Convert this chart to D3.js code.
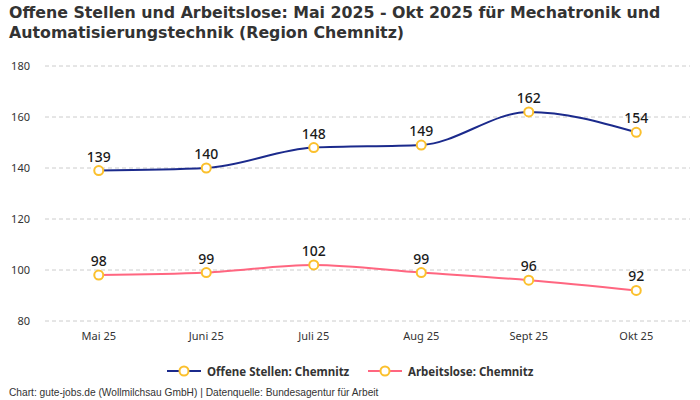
<!DOCTYPE html>
<html>
<head>
<meta charset="utf-8">
<script src="https://cdn.jsdelivr.net/npm/d3@7"></script>
<style>
  body { margin: 0; background: #fff; }
  svg { display: block; font-family: "Noto Sans", sans-serif; }
</style>
</head>
<body>
<svg id="chart" width="700" height="400"></svg>
<script>
// data
var months = ['Mai 25', 'Juni 25', 'Juli 25', 'Aug 25', 'Sept 25', 'Okt 25']
var offeneStellen = [139, 140, 148, 149, 162, 154]
var arbeitslose = [98, 99, 102, 99, 96, 92]
var yTicks = [80, 100, 120, 140, 160, 180]
var seriesNames = ['Offene Stellen: Chemnitz', 'Arbeitslose: Chemnitz']
var seriesColors = ['#1b2a8c', '#ff6680']
var titleLines = [
  'Offene Stellen und Arbeitslose: Mai 2025 - Okt 2025 für Mechatronik und',
  'Automatisierungstechnik (Region Chemnitz)'
]

var svg = d3.select('#chart')
var left = 45
var right = 690

var x = d3.scalePoint().domain(months).range([left, right]).padding(0.5)
var y = d3.scaleLinear().domain([80, 180]).range([321, 66])

// title, one text per line
svg.append('g').selectAll('text')
  .data(titleLines)
  .enter()
  .append('text')
  .attr('x', 9)
  .attr('y', function (d, i) { return 18 + i * 19.5 })
  .attr('font-family', '"DejaVu Sans", sans-serif')
  .attr('font-size', 15.8)
  .attr('font-weight', 'bold')
  .attr('fill', '#333')
  .text(function (d) { return d })

// gridlines + y labels
svg.append('g').selectAll('line')
  .data(yTicks)
  .enter()
  .append('line')
  .attr('x1', left)
  .attr('x2', right)
  .attr('y1', function (d) { return y(d) })
  .attr('y2', function (d) { return y(d) })
  .attr('stroke', '#cccccc')
  .attr('stroke-dasharray', '4,3')

svg.append('g').selectAll('text')
  .data(yTicks)
  .enter()
  .append('text')
  .attr('x', 30)
  .attr('y', function (d) { return y(d) + 4 })
  .attr('text-anchor', 'end')
  .attr('font-size', 11)
  .attr('fill', '#333')
  .text(function (d) { return d })

// x labels
svg.append('g').selectAll('text')
  .data(months)
  .enter()
  .append('text')
  .attr('x', function (d) { return x(d) })
  .attr('y', 340)
  .attr('text-anchor', 'middle')
  .attr('font-size', 11)
  .attr('fill', '#333')
  .text(function (d) { return d })

var line = d3.line()
  .x(function (d, i) { return x(months[i]) })
  .y(function (d) { return y(d) })
  .curve(d3.curveMonotoneX)

;[offeneStellen, arbeitslose].forEach(function (values, s) {
  var g = svg.append('g')
  g.append('path')
    .datum(values)
    .attr('d', line)
    .attr('fill', 'none')
    .attr('stroke', seriesColors[s])
    .attr('stroke-width', 2)

  g.selectAll('circle')
    .data(values)
    .enter()
    .append('circle')
    .attr('cx', function (d, i) { return x(months[i]) })
    .attr('cy', function (d) { return y(d) })
    .attr('r', 4.5)
    .attr('fill', '#fff')
    .attr('stroke', '#fbc02d')
    .attr('stroke-width', 2)

  g.selectAll('text')
    .data(values)
    .enter()
    .append('text')
    .attr('x', function (d, i) { return x(months[i]) })
    .attr('y', function (d) { return y(d) - 9 })
    .attr('text-anchor', 'middle')
    .attr('font-size', 14)
    .attr('font-weight', 500)
    .attr('fill', '#1a1a1a')
    .text(function (d) { return d })
})

// legend
var legendX = [167, 368]
seriesNames.forEach(function (name, s) {
  var lg = svg.append('g').attr('transform', 'translate(' + legendX[s] + ',371)')
  lg.append('line')
    .attr('x1', 0).attr('x2', 34)
    .attr('stroke', seriesColors[s])
    .attr('stroke-width', 2)
  lg.append('circle')
    .attr('cx', 17).attr('r', 4.5)
    .attr('fill', '#fff')
    .attr('stroke', '#fbc02d')
    .attr('stroke-width', 2)
  lg.append('text')
    .attr('x', 40).attr('y', 4.5)
    .attr('font-size', 11.5)
    .attr('font-weight', 'bold')
    .attr('fill', '#333')
    .text(name)
})

// footer
svg.append('text')
  .attr('x', 9)
  .attr('y', 396)
  .attr('font-family', '"Liberation Sans", Arial, sans-serif')
  .attr('font-size', 10.2)
  .attr('fill', '#333')
  .text('Chart: gute-jobs.de (Wollmilchsau GmbH) | Datenquelle: Bundesagentur für Arbeit')
</script>
</body>
</html>
